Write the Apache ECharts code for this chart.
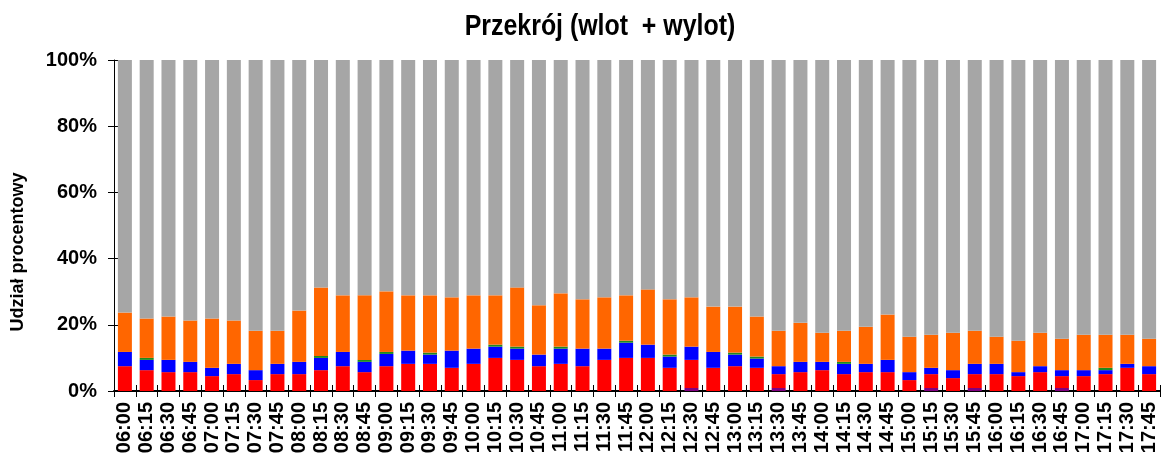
<!DOCTYPE html>
<html>
<head>
<meta charset="utf-8">
<script src="https://cdn.jsdelivr.net/npm/echarts@6/dist/echarts.min.js"></script>
<style>
html,body{margin:0;padding:0;background:#fff;}
#chart{width:1164px;height:462px;}
</style>
</head>
<body>
<div id="chart"></div>
<script>
var categories = ['06:00','06:15','06:30','06:45','07:00','07:15','07:30','07:45','08:00','08:15','08:30','08:45',
  '09:00','09:15','09:30','09:45','10:00','10:15','10:30','10:45','11:00','11:15','11:30','11:45',
  '12:00','12:15','12:30','12:45','13:00','13:15','13:30','13:45','14:00','14:15','14:30','14:45',
  '15:00','15:15','15:30','15:45','16:00','16:15','16:30','16:45','17:00','17:15','17:30','17:45'];

var purpleVals = [0,0,0,0,0,0,0,0,0,0,0,0, 0,0,0,0,0,0,0,0,0,0,0,0, 0,0,0.9,0,0,0,0.9,0,0,0,0,0, 0,0.9,0,0.9,0,0,0,0.9,0,0,0,0];
var redVals = [7.5,6.3,5.7,5.7,4.5,5.1,3.3,5.1,5.1,6.3,7.5,5.7, 7.5,8.2,8.2,7.0,8.2,10.0,9.4,7.5,8.2,7.5,9.4,10.0,
  10.0,7.0,8.5,7.0,7.5,7.0,4.2,5.7,6.3,5.1,5.7,5.7, 3.3,4.2,3.9,4.2,5.1,4.5,5.7,3.6,4.5,5.1,7.0,5.1];
var blueVals = [4.3,3.1,3.7,3.1,2.5,3.1,3.0,3.1,3.7,3.7,4.3,3.1, 3.7,4.0,2.8,5.2,4.6,3.4,3.4,3.5,4.6,5.3,3.4,4.6,
  4.0,3.4,4.0,4.8,3.5,2.8,2.4,3.1,2.5,3.1,2.5,3.7, 2.4,1.9,2.4,3.1,3.1,1.2,1.8,1.8,1.8,1.2,1.2,2.4];
var greenVals = [0,0.6,0,0,0,0,0,0,0,0.6,0,0.6, 0.6,0,0.6,0,0,0.6,0.6,0,0.6,0,0,0.6,
  0,0.6,0,0,0.6,0.6,0,0,0,0.6,0,0, 0,0,0,0,0,0,0,0,0,0.7,0,0];
var orangeVals = [11.9,11.9,13.1,12.5,14.9,13.1,11.9,10.0,15.5,20.7,17.1,19.5, 18.3,16.7,17.3,16.1,16.1,14.9,17.9,14.9,16.1,14.9,15.5,13.7,
  16.7,16.7,14.9,13.7,13.9,12.1,10.7,11.8,8.8,9.4,11.2,13.7, 10.7,10.0,11.3,10.0,8.2,9.5,10.1,9.5,10.7,10.0,8.8,8.3];
var grayVals = [76.3,78.1,77.5,78.7,78.1,78.7,81.8,81.8,75.7,68.7,71.1,71.1, 69.9,71.1,71.1,71.7,71.1,71.1,68.7,74.1,70.5,72.3,71.7,71.1,
  69.3,72.3,71.7,74.5,74.5,77.5,81.8,79.4,82.4,81.8,80.6,76.9, 83.6,83.0,82.4,81.8,83.6,84.8,82.4,84.2,83.0,83.0,83.0,84.2];
var yTicks = ['0%','20%','40%','60%','80%','100%'];

var seriesDefs = [
  {name:'s1', data:purpleVals, color:'#800080'},
  {name:'s2', data:redVals, color:'#ff0000'},
  {name:'s3', data:blueVals, color:'#0000ff'},
  {name:'s4', data:greenVals, color:'#1e8a1e'},
  {name:'s5', data:orangeVals, color:'#ff6600'},
  {name:'s6', data:grayVals, color:'#a6a6a6'}
];

var FONT = '"Liberation Sans", Arial, sans-serif';
var chart = echarts.init(document.getElementById('chart'), null, {renderer:'canvas'});
var option = {
  animation: false,
  backgroundColor: '#ffffff',
  graphic: [{
    type: 'text',
    x: 600, y: 26.5,
    scaleX: 0.83, scaleY: 1,
    style: {
      text: 'Przekrój (wlot  + wylot)',
      fontFamily: FONT, fontWeight: 'bold', fontSize: 30, fill: '#000',
      align: 'center', verticalAlign: 'middle'
    }
  }, {
    type: 'text',
    x: 18, y: 252,
    rotation: Math.PI / 2,
    style: {
      text: 'Udział procentowy',
      fontFamily: FONT, fontWeight: 'bold', fontSize: 18, fill: '#000',
      align: 'center', verticalAlign: 'middle'
    }
  }],
  grid: {left: 114, right: 4, top: 60, bottom: 71, containLabel: false},
  xAxis: [{
    type: 'category', data: categories, boundaryGap: true,
    axisLine: {show: true, lineStyle: {color: '#000', width: 2}},
    axisTick: {show: true, inside: false, length: 6, interval: 0, lineStyle: {color: '#000'}},
    axisLabel: {interval: 0, rotate: 90, margin: 11, fontFamily: FONT, fontWeight: 'bold', fontSize: 20, color: '#000'},
    splitLine: {show: false}
  }, {
    type: 'category', data: categories, boundaryGap: true, position: 'bottom', offset: 0,
    axisLine: {show: false},
    axisTick: {show: true, inside: true, length: 6, interval: 0, lineStyle: {color: '#000'}},
    axisLabel: {show: false},
    splitLine: {show: false}
  }],
  yAxis: [{
    type: 'value', min: 0, max: 100, interval: 20,
    axisLine: {show: true, lineStyle: {color: '#000', width: 1}},
    axisTick: {show: true, inside: false, length: 6, lineStyle: {color: '#000'}},
    axisLabel: {margin: 17, fontFamily: FONT, fontWeight: 'bold', fontSize: 20, color: '#000',
      formatter: function (v) { return yTicks[Math.round(v / 20)]; }},
    splitLine: {show: false}
  }, {
    type: 'value', min: 0, max: 100, interval: 20, position: 'left', offset: 0,
    axisLine: {show: false},
    axisTick: {show: true, inside: true, length: 6, lineStyle: {color: '#000'}},
    axisLabel: {show: false},
    splitLine: {show: false}
  }],
  series: seriesDefs.map(function (s) {
    return {
      name: s.name, type: 'bar', stack: 'total', data: s.data,
      xAxisIndex: 0, yAxisIndex: 0,
      barWidth: 14,
      itemStyle: {color: s.color},
      emphasis: {disabled: true}
    };
  })
};
chart.setOption(option);
</script>
</body>
</html>
